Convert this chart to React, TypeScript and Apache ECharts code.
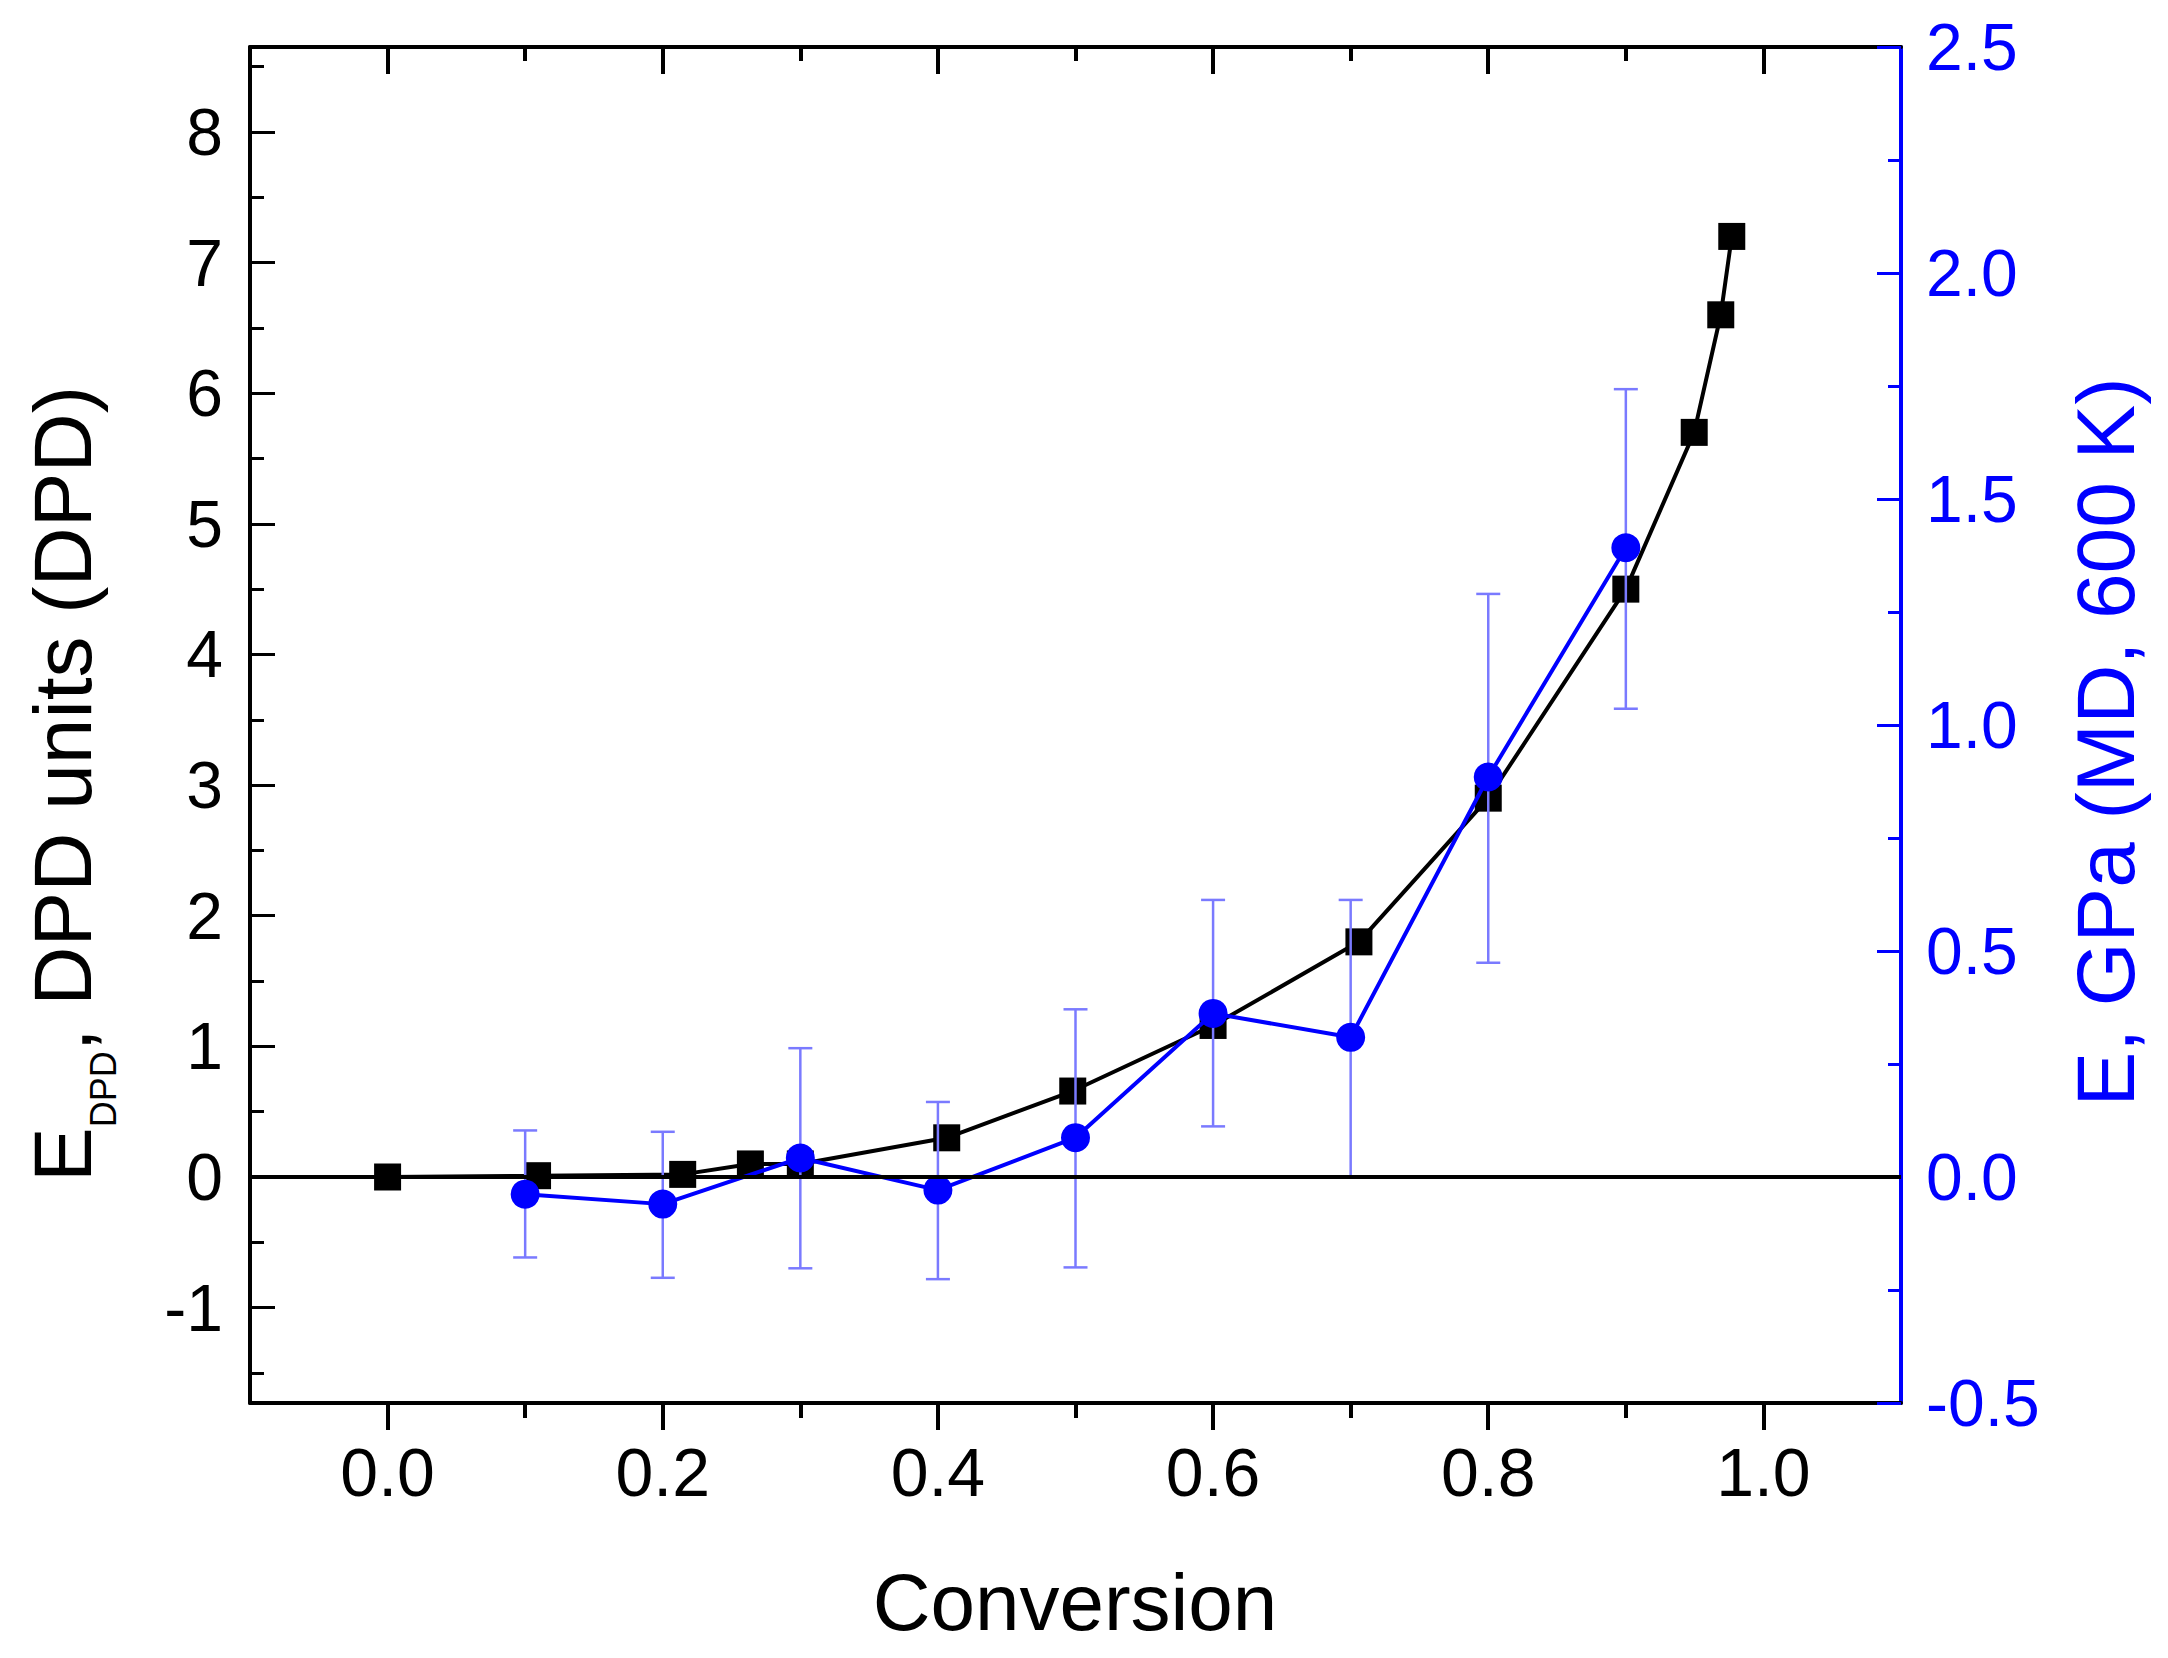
import React, { useEffect, useRef } from "react";
import * as echarts from "echarts";

// ---- data ----
const dpdX = [0, 0.109, 0.2145, 0.2637, 0.3, 0.4064, 0.498, 0.6, 0.706, 0.8, 0.9, 0.9497, 0.969, 0.977];
const dpdY = [0, 0.01, 0.02, 0.1, 0.1, 0.3, 0.658, 1.16, 1.8, 2.9, 4.5, 5.7, 6.6, 7.2];

const mdX = [0.1, 0.2, 0.3, 0.4, 0.5, 0.6, 0.7, 0.8, 0.9];
const mdY = [-0.038, -0.06, 0.042, -0.029, 0.087, 0.362, 0.309, 0.885, 1.392];
const mdLow = [-0.178, -0.223, -0.202, -0.226, -0.2, 0.112, 0.0, 0.474, 1.036];
const mdHigh = [0.103, 0.1, 0.285, 0.166, 0.371, 0.613, 0.613, 1.29, 1.743];

const xMajorTicks = [0, 0.2, 0.4, 0.6, 0.8, 1.0];
const xMinorTicks = [0.1, 0.3, 0.5, 0.7, 0.9];
const yLeftMajorTicks = [-1, 0, 1, 2, 3, 4, 5, 6, 7, 8];
const yLeftMinorTicks = [-1.5, -0.5, 0.5, 1.5, 2.5, 3.5, 4.5, 5.5, 6.5, 7.5, 8.5];

const X_MIN = -0.1;
const X_MAX = 1.1;
const YL_MIN = -1.73;
const YL_MAX = 8.65;
const YR_MIN = -0.5;
const YR_MAX = 2.5;

const FONT = "'Liberation Sans', Arial, Helvetica, sans-serif";
const BLUE = "#0000ff";
const ERR = "#7a7aff";
const BLACK = "#000000";

export default function App() {
  const ref = useRef<HTMLDivElement>(null);

  useEffect(() => {
    if (!ref.current) return;
    const chart = echarts.init(ref.current, undefined, { renderer: "svg" });

    const option: any = {
      animation: false,
      backgroundColor: "#ffffff",
      grid: { left: 250, top: 47, right: 267, bottom: 255 },
      xAxis: [
        {
          type: "value", min: X_MIN, max: X_MAX, position: "bottom", splitLine: { show: false },
          axisLine: { show: true, onZero: false, lineStyle: { color: BLACK, width: 4 } },
          axisTick: { show: true, length: 27, customValues: xMajorTicks, lineStyle: { color: BLACK, width: 4 } },
          axisLabel: {
            show: true, customValues: xMajorTicks, formatter: (v: number) => v.toFixed(1),
            fontSize: 68, fontFamily: FONT, color: BLACK, margin: 35,
          },
        },
        {
          type: "value", min: X_MIN, max: X_MAX, position: "bottom", splitLine: { show: false },
          axisLine: { show: false, onZero: false },
          axisTick: { show: true, length: 15, customValues: xMinorTicks, lineStyle: { color: BLACK, width: 4 } },
          axisLabel: { show: false },
        },
        {
          type: "value", min: X_MIN, max: X_MAX, position: "top", splitLine: { show: false },
          axisLine: { show: true, onZero: false, lineStyle: { color: BLACK, width: 4 } },
          axisTick: { show: true, inside: true, length: 27, customValues: xMajorTicks, lineStyle: { color: BLACK, width: 4 } },
          axisLabel: { show: false },
        },
        {
          type: "value", min: X_MIN, max: X_MAX, position: "top", splitLine: { show: false },
          axisLine: { show: false, onZero: false },
          axisTick: { show: true, inside: true, length: 14, customValues: xMinorTicks, lineStyle: { color: BLACK, width: 4 } },
          axisLabel: { show: false },
        },
      ],
      yAxis: [
        {
          type: "value", min: YL_MIN, max: YL_MAX, position: "left", splitLine: { show: false },
          axisLine: { show: true, onZero: false, lineStyle: { color: BLACK, width: 4 } },
          axisTick: { show: true, inside: true, length: 25, customValues: yLeftMajorTicks, lineStyle: { color: BLACK, width: 3 } },
          axisLabel: {
            show: true, customValues: yLeftMajorTicks, formatter: (v: number) => String(v),
            fontSize: 66, fontFamily: FONT, color: BLACK, margin: 27,
          },
        },
        {
          type: "value", min: YL_MIN, max: YL_MAX, position: "left", splitLine: { show: false },
          axisLine: { show: false, onZero: false },
          axisTick: { show: true, inside: true, length: 14, customValues: yLeftMinorTicks, lineStyle: { color: BLACK, width: 3 } },
          axisLabel: { show: false },
        },
        {
          type: "value", min: YR_MIN, max: YR_MAX, interval: 0.5, position: "right", splitLine: { show: false },
          axisLine: { show: true, onZero: false, lineStyle: { color: BLUE, width: 4 } },
          axisTick: { show: true, inside: true, length: 24, lineStyle: { color: BLUE, width: 3 } },
          minorTick: { show: true, splitNumber: 2, length: 13, lineStyle: { color: BLUE, width: 3 } },
          axisLabel: {
            show: true, formatter: (v: number) => v.toFixed(1),
            fontSize: 66, fontFamily: FONT, color: BLUE, margin: 25,
          },
        },
      ],
      graphic: [
        {
          type: "text", x: 62, y: 784, rotation: Math.PI / 2, silent: true,
          style: {
            text: "{m|E}{s|DPD}{m|, DPD units (DPD)}",
            align: "center", verticalAlign: "middle", textAlign: "center", textVerticalAlign: "middle",
            fill: BLACK,
            rich: {
              m: { fontSize: 82, fontFamily: FONT, fill: BLACK, color: BLACK, lineHeight: 118, verticalAlign: "middle" },
              s: { fontSize: 36, fontFamily: FONT, fill: BLACK, color: BLACK, lineHeight: 36, verticalAlign: "bottom" },
            },
          },
        },
        {
          type: "text", x: 2105, y: 742, rotation: Math.PI / 2, silent: true,
          style: {
            text: "E, GPa (MD, 600 K)", fontSize: 82, fontFamily: FONT, fill: BLUE,
            align: "center", verticalAlign: "middle", textAlign: "center", textVerticalAlign: "middle",
          },
        },
        {
          type: "text", x: 1075, y: 1602, silent: true,
          style: {
            text: "Conversion", fontSize: 80, fontFamily: FONT, fill: BLACK,
            align: "center", verticalAlign: "middle", textAlign: "center", textVerticalAlign: "middle",
          },
        },
      ],
      series: [
        {
          name: "DPD", type: "line", xAxisIndex: 0, yAxisIndex: 0, z: 2,
          data: dpdX.map((x, i) => [x, dpdY[i]]),
          symbol: "rect", symbolSize: 27,
          itemStyle: { color: BLACK },
          lineStyle: { color: BLACK, width: 4 },
          markLine: {
            silent: true, symbol: "none", label: { show: false },
            lineStyle: { color: BLACK, width: 4, type: "solid" },
            data: [{ yAxis: 0 }],
          },
        },
        {
          name: "MD error", type: "custom", xAxisIndex: 0, yAxisIndex: 2, z: 3,
          data: mdX.map((x, i) => [x, mdLow[i], mdHigh[i]]),
          encode: { x: 0, y: [1, 2] },
          renderItem: (_params: any, api: any) => {
            const x = api.value(0);
            const p1 = api.coord([x, api.value(1)]);
            const p2 = api.coord([x, api.value(2)]);
            const w = 12;
            const style = { stroke: ERR, lineWidth: 2.5, fill: "none" };
            return {
              type: "group",
              children: [
                { type: "line", shape: { x1: p1[0], y1: p1[1], x2: p2[0], y2: p2[1] }, style },
                { type: "line", shape: { x1: p1[0] - w, y1: p1[1], x2: p1[0] + w, y2: p1[1] }, style },
                { type: "line", shape: { x1: p2[0] - w, y1: p2[1], x2: p2[0] + w, y2: p2[1] }, style },
              ],
            };
          },
        },
        {
          name: "MD", type: "line", xAxisIndex: 0, yAxisIndex: 2, z: 4,
          data: mdX.map((x, i) => [x, mdY[i]]),
          symbol: "circle", symbolSize: 29,
          itemStyle: { color: BLUE },
          lineStyle: { color: BLUE, width: 4 },
        },
      ],
    };

    chart.setOption(option);
    return () => {
      chart.dispose();
    };
  }, []);

  return (
    <div ref={ref} style={{ position: "fixed", left: 0, top: 0, width: 2168, height: 1658, background: "#fff" }} />
  );
}
